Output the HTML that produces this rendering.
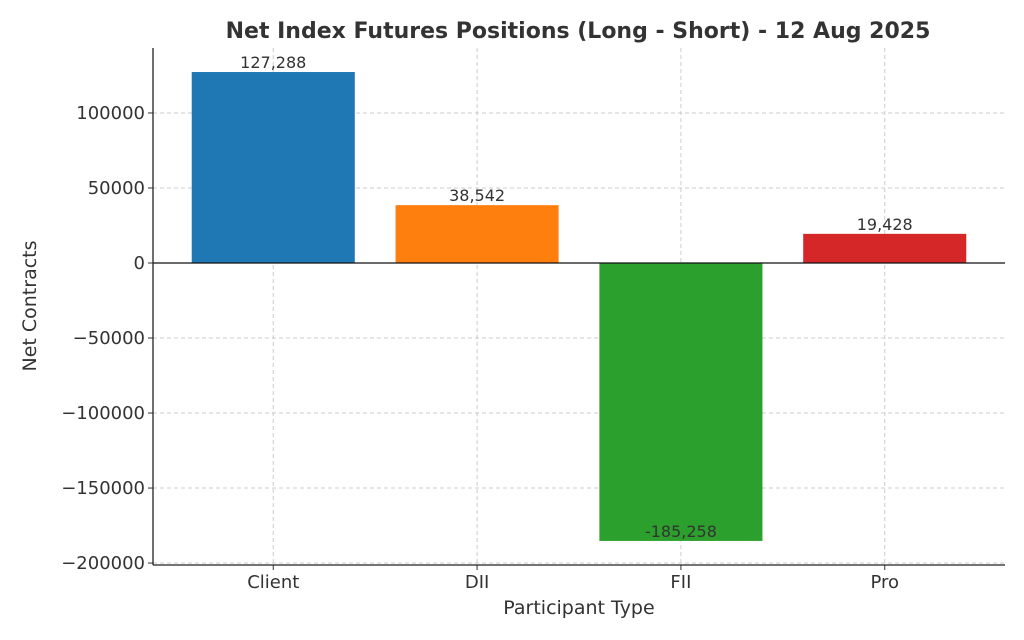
<!DOCTYPE html>
<html><head><meta charset="utf-8"><style>
body{margin:0;background:#fff;}
svg{display:block;font-family:"DejaVu Sans","Liberation Sans",sans-serif;}
</style></head><body>
<svg id="chart" width="1024" height="640" viewBox="0 0 1024 640">
<text x="578" y="38" text-anchor="middle" font-size="22" font-weight="bold" fill="#333">Net Index Futures Positions (Long - Short) - 12 Aug 2025</text>
<g id="grid"></g>
<g id="bars"></g>
<g id="axes"></g>
<text x="579" y="614" text-anchor="middle" font-size="19" fill="#333">Participant Type</text>
<text transform="translate(36,306) rotate(-90)" text-anchor="middle" font-size="19" fill="#333">Net Contracts</text>
</svg>
<script>
const categories = ["Client","DII","FII","Pro"];
const values = [127288, 38542, -185258, 19428];
const valueLabels = ["127,288","38,542","-185,258","19,428"];
const colors = ["#1f77b4","#ff7f0e","#2ca02c","#d62728"];
const yTicks = [100000, 50000, 0, -50000, -100000, -150000, -200000];
const yTickLabels = ["100000","50000","0","\u221250000","\u2212100000","\u2212150000","\u2212200000"];

const NS="http://www.w3.org/2000/svg";
const L=153,R=1005,T=48,B=565;
const xMin=-0.59,xMax=3.59,yMin=-201300,yMax=143300;
const xS=i=>L+(i-xMin)/(xMax-xMin)*(R-L);
const yS=v=>B-(v-yMin)/(yMax-yMin)*(B-T);
function mk(tag,attrs,parent){const e=document.createElementNS(NS,tag);for(const k in attrs)e.setAttribute(k,attrs[k]);parent.appendChild(e);return e;}
const grid=document.getElementById('grid'),bars=document.getElementById('bars'),axes=document.getElementById('axes');
yTicks.forEach((t,i)=>{
  const y=yS(t);
  const g=mk('line',{x1:L,x2:R,y1:y,y2:y,stroke:'#ccc','stroke-dasharray':'4,3','stroke-width':1},grid);
  
  
  const tk=mk('line',{x1:L-5,x2:L,y1:y,y2:y,stroke:'#333'},axes);
  
  
  const tx=mk('text',{x:L-8,y:y+6,'text-anchor':'end','font-size':18,fill:'#333'},axes);
  tx.textContent=yTickLabels[i];
  
  
});
categories.forEach((c,i)=>{
  const x=xS(i);
  const g=mk('line',{x1:x,x2:x,y1:T,y2:B,stroke:'#ccc','stroke-dasharray':'4,3','stroke-width':1},grid);
  
  
  const w=(R-L)/(xMax-xMin)*0.8;
  const y0=yS(0),y1=yS(values[i]);
  const r=mk('rect',{x:x-w/2,y:Math.min(y0,y1),width:w,height:Math.abs(y1-y0),fill:colors[i]},bars);
  
  
  const lt=mk('text',{x:x,y:values[i]>=0?y1-4:y1-4,'text-anchor':'middle','font-size':16,fill:'#333'},bars);
  lt.textContent=valueLabels[i];
  
  
  const tk=mk('line',{x1:x,x2:x,y1:B,y2:B+5,stroke:'#333'},axes);
  
  
  const tx=mk('text',{x:x,y:B+23,'text-anchor':'middle','font-size':18,fill:'#333'},axes);
  tx.textContent=c;
  
  
});
const z=mk('line',{x1:L,x2:R,y1:yS(0),y2:yS(0),stroke:'#111','stroke-width':1.2},axes);


const ls=mk('line',{x1:L,x2:L,y1:T,y2:B,stroke:'#222','stroke-width':1.3},axes);


const bs=mk('line',{x1:L,x2:R,y1:B,y2:B,stroke:'#222','stroke-width':1.3},axes);


</script>
</body></html>
